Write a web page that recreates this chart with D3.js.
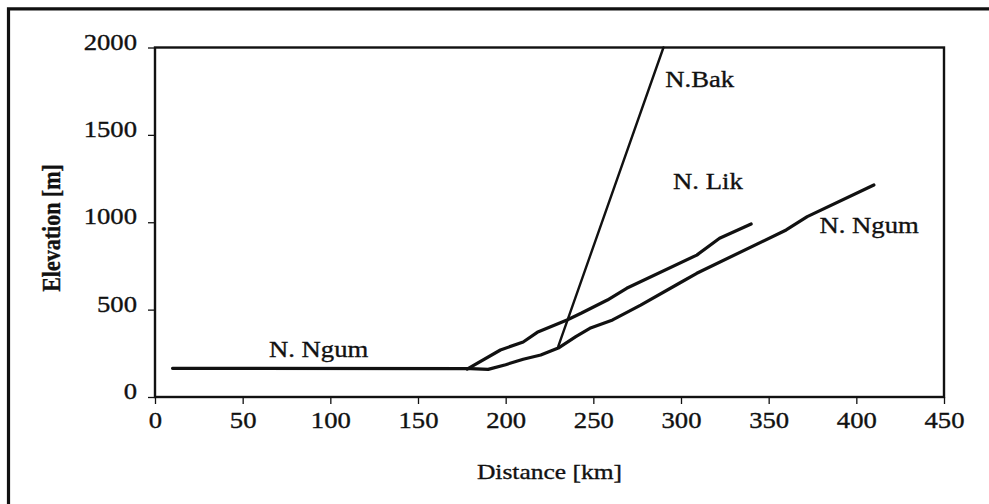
<!DOCTYPE html>
<html>
<head>
<meta charset="utf-8">
<script src="https://cdn.jsdelivr.net/npm/d3@7"></script>
<style>
  html, body { margin: 0; padding: 0; background: #fff; }
  svg { display: block; }
  text { font-family: "Liberation Serif", "Times New Roman", serif; fill: #111; stroke: #111; stroke-width: 0.35px; }
</style>
</head>
<body>
<svg id="chart" width="989" height="504"></svg>
<script>
// ---- data ----
const xTicks = [0, 50, 100, 150, 200, 250, 300, 350, 400, 450];
const yTicks = [0, 500, 1000, 1500, 2000];

// N. Ngum (main river): [distance km, elevation m]
const ngumDist = [10, 180, 190, 200, 210, 220, 230, 240, 248, 261, 277, 299, 309, 360, 372, 410];
const ngumElev = [164, 162, 158, 185, 216, 240, 280, 345, 393, 441, 526, 651, 708, 956, 1032, 1213];

// N. Lik
const likDist = [178, 197, 210, 218, 235, 243, 258, 269, 309, 322, 340];
const likElev = [160, 269, 315, 370, 441, 479, 555, 622, 812, 908, 990];

// N. Bak
const bakDist = [230, 290];
const bakElev = [290, 2000];

// Labels
const labelText = ["N. Ngum", "N.Bak", "N. Lik", "N. Ngum"];
const labelDist = [65, 291, 295.5, 379];
const labelElev = [229, 1774, 1190, 938];

const xTitle = "Distance [km]";
const yTitle = "Elevation [m]";

// ---- layout ----
const svg = d3.select("#chart");
const mLeft = 155, mRight = 944, mTop = 47.5, mBottom = 397;
const SX = 1.16; // horizontal stretch of the original scan
const FS = 23;

const x = d3.scaleLinear().domain([0, 450]).range([mLeft, mRight]);
const y = d3.scaleLinear().domain([0, 2000]).range([mBottom, mTop]);

// outer frame (open on right and bottom)
svg.append("path")
  .attr("d", "M8.5,504 V8.8 H989")
  .attr("fill", "none").attr("stroke", "#111").attr("stroke-width", 3.2);

// plot frame
svg.append("rect")
  .attr("x", mLeft).attr("y", mTop)
  .attr("width", mRight - mLeft).attr("height", mBottom - mTop)
  .attr("fill", "none").attr("stroke", "#111").attr("stroke-width", 2.4);

// x axis
const gx = svg.append("g").attr("transform", `translate(0,${mBottom})`)
  .call(d3.axisBottom(x).tickValues(xTicks).tickFormat(d3.format("d")).tickSize(7).tickSizeOuter(0));
gx.select(".domain").remove();
gx.selectAll(".tick line").attr("stroke", "#111").attr("stroke-width", 1.3);
gx.selectAll(".tick text")
  .attr("y", null).attr("dy", null)
  .attr("transform", `translate(0,31) scale(${SX},1)`)
  .attr("text-anchor", "middle")
  .style("font-family", "'Liberation Serif', serif")
  .style("font-size", FS + "px").attr("fill", "#111");

// y axis
const gy = svg.append("g").attr("transform", `translate(${mLeft},0)`)
  .call(d3.axisLeft(y).tickValues(yTicks).tickFormat(d3.format("d")).tickSize(7).tickSizeOuter(0));
gy.select(".domain").remove();
gy.selectAll(".tick line").attr("stroke", "#111").attr("stroke-width", 1.3);
gy.selectAll(".tick text")
  .attr("x", null).attr("dy", null)
  .attr("transform", `translate(-18,1.5) scale(${SX},1)`)
  .attr("text-anchor", "end")
  .style("font-family", "'Liberation Serif', serif")
  .style("font-size", FS + "px").attr("fill", "#111");

// series lines
const line = d3.line().x(d => x(d[0])).y(d => y(d[1]));
const series = [
  { dist: ngumDist, elev: ngumElev, w: 3.2 },
  { dist: likDist, elev: likElev, w: 3.2 },
  { dist: bakDist, elev: bakElev, w: 2.4 }
];
series.forEach(s => {
  const pts = s.dist.map((d, i) => [d, s.elev[i]]);
  svg.append("path").datum(pts)
    .attr("d", line)
    .attr("fill", "none").attr("stroke", "#111")
    .attr("stroke-width", s.w)
    .attr("stroke-linejoin", "round").attr("stroke-linecap", "round");
});

// labels
labelText.forEach((t, i) => {
  svg.append("text")
    .attr("transform", `translate(${x(labelDist[i])},${y(labelElev[i])}) scale(${SX},1)`)
    .attr("font-size", FS)
    .text(t);
});

// axis titles
svg.append("text")
  .attr("transform", `translate(${(mLeft + mRight) / 2},479) scale(${SX},1)`)
  .attr("text-anchor", "middle")
  .attr("font-size", 22)
  .text(xTitle);

svg.append("text")
  .attr("transform", `translate(60,228) scale(1.15,1) rotate(-90)`)
  .attr("text-anchor", "middle")
  .attr("font-size", 22)
  .attr("font-weight", "bold")
  .text(yTitle);
</script>
</body>
</html>
